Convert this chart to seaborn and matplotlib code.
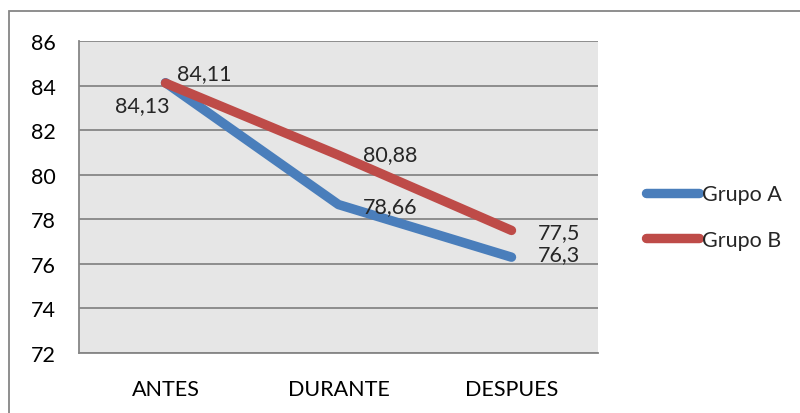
import matplotlib
matplotlib.use("Agg")
import matplotlib.pyplot as plt
import seaborn as sns
import pandas as pd
from matplotlib.patches import Rectangle
from matplotlib.lines import Line2D

categories = ["ANTES", "DURANTE", "DESPUES"]
grupo_a = [84.13, 78.66, 76.3]
grupo_b = [84.11, 80.88, 77.5]
series_names = ["Grupo A", "Grupo B"]
y_ticks = [72, 74, 76, 78, 80, 82, 84, 86]

colors = {"Grupo A": "#4A7EBB", "Grupo B": "#BE4B48"}

df = pd.DataFrame({
    "etapa": categories * 2,
    "pos": list(range(len(categories))) * 2,
    "valor": grupo_a + grupo_b,
    "grupo": [series_names[0]] * 3 + [series_names[1]] * 3,
})

sns.set_theme(style="white")
plt.rcParams["font.family"] = ["Lato", "DejaVu Sans"]
FS = 15.5

fig = plt.figure(figsize=(8.0, 4.14), dpi=100)
ax = fig.add_axes([79 / 800, 1 - 354 / 414, (598 - 79) / 800, (354 - 42) / 414])
ax.set_facecolor("#E6E6E6")

sns.lineplot(data=df, x="pos", y="valor", hue="grupo", palette=colors,
             linewidth=6.8, ax=ax, legend=False, zorder=3,
             solid_capstyle="round")

ax.set_xlim(-0.5, 2.5)
ax.set_ylim(72, 86)
ax.set_xticks(range(len(categories)))
ax.set_xticklabels(categories)
ax.set_yticks(y_ticks)
ax.set_yticklabels([str(v) for v in y_ticks])
ax.set_xlabel("")
ax.set_ylabel("")
ax.tick_params(axis="both", length=0, labelsize=FS, colors="black")
ax.tick_params(axis="y", pad=17)
ax.tick_params(axis="x", pad=19)
ax.grid(axis="y", color="#868686", linewidth=1.3, zorder=1)
for side in ["top", "right"]:
    ax.spines[side].set_visible(False)
for side in ["left", "bottom"]:
    ax.spines[side].set_color("#868686")
    ax.spines[side].set_linewidth(1.3)

def fmt(v):
    return f"{v:g}".replace(".", ",")

def label(x, y, dx, dy):
    ax.annotate(fmt(y), (x, y), xytext=(dx, dy), textcoords="offset points",
                ha="center", va="center", fontsize=FS, zorder=4)

# value labels
label(0, grupo_a[0], -16.5, -16.5)
label(0, grupo_b[0], 28, 7.5)
label(1, grupo_a[1], 37.5, -1)
label(1, grupo_b[1], 37.5, 0.7)
label(2, grupo_b[2], 34, -1.5)
label(2, grupo_a[2], 34, 2.5)

# legend
handles = [Line2D([0], [0], color=colors[n], linewidth=6.8, solid_capstyle="round")
           for n in series_names]
fig.legend(handles, series_names, loc="center left",
           bbox_to_anchor=(627 / 800, 1 - 218 / 414), frameon=False,
           fontsize=FS, handlelength=2.45, handletextpad=0.15, labelspacing=1.2)

# chart border
fig.patches.append(Rectangle((9 / 800, -0.01), 1.0, 1 - 12 / 414 + 0.01,
                             transform=fig.transFigure, fill=False,
                             edgecolor="#868686", linewidth=1.3))

fig.savefig("out.png", dpi=100)
